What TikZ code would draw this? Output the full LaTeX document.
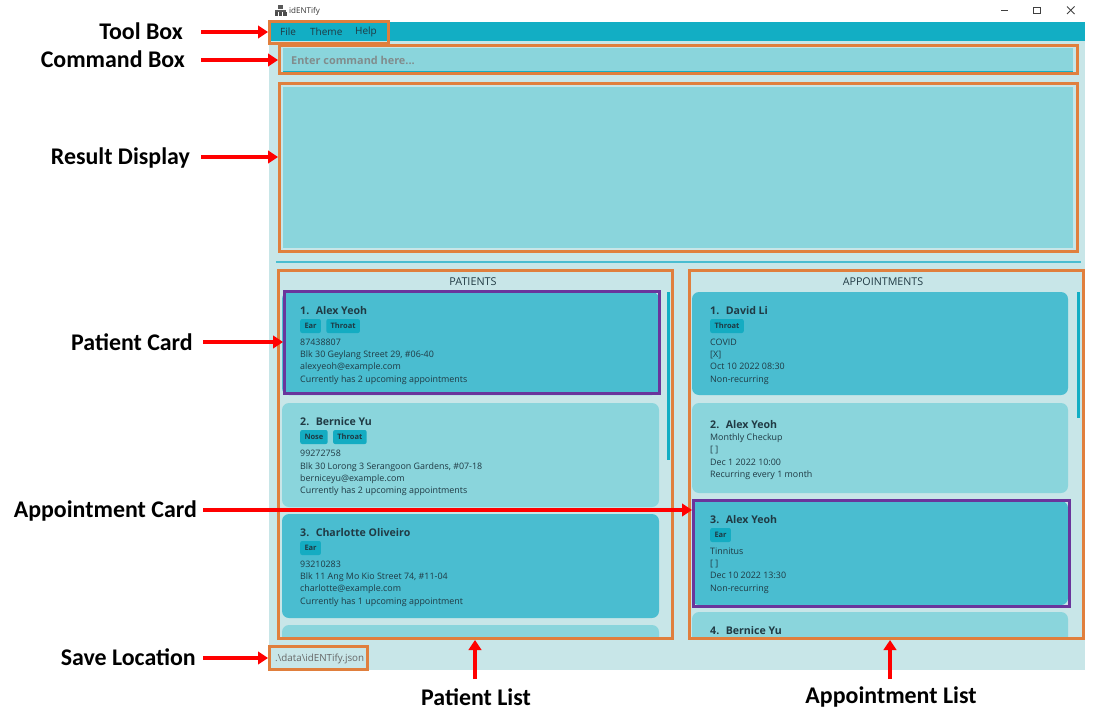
\documentclass[tikz,border=0pt]{standalone}
\usepackage{xcolor}
\usepackage{fontspec}
\setmainfont{Open Sans}
\newfontfamily\labelfont{Carlito}
\usepackage{tikz}
\usetikzlibrary{positioning,arrows.meta}
\definecolor{appbg}{RGB}{200, 230, 232}
\definecolor{appbar}{RGB}{18, 174, 196}
\definecolor{carddark}{RGB}{74, 189, 208}
\definecolor{cardlight}{RGB}{138, 213, 220}
\definecolor{tagfill}{RGB}{20, 172, 194}
\definecolor{markorange}{RGB}{224, 127, 61}
\definecolor{markpurple}{RGB}{106, 53, 156}
\definecolor{inktext}{RGB}{32, 58, 68}
\tikzset{
  orangebox/.style={draw=markorange,line width=3pt,inner sep=0pt},
  purplebox/.style={draw=markpurple,line width=3pt,inner sep=0pt},
  callout/.style={font=\labelfont\fontsize{23.9}{24}\selectfont\bfseries,text=black,inner sep=0pt},
  redarrow/.style={draw=red,line width=3.6pt,-{Triangle[length=10pt,width=12.5pt]}},
  cardname/.style={anchor=west,inner sep=0pt,font=\fontsize{10.6}{12}\selectfont\bfseries,text=inktext},
  cardbody/.style={anchor=north west,inner sep=0pt,align=left,text=inktext,font=\fontsize{8.9}{12.35}\selectfont},
  tagbox/.style={fill=tagfill,rounded corners=2pt,inner xsep=4.3pt,inner ysep=0pt,minimum height=14pt,text=inktext,font=\fontsize{7.5}{9}\selectfont\bfseries},
  darkcard/.style={fill=carddark,rounded corners=7pt},
  lightcard/.style={fill=cardlight,rounded corners=7pt}
}
\begin{document}
\begin{tikzpicture}[x=1pt,y=-1pt,node distance=5pt]
\useasboundingbox (0,0) rectangle (1108,720);

% Window
\fill[appbg] (269,22) rectangle (1085,670);
\fill[appbar] (269,22) rectangle (1085,41);

% Title bar
\fill[gray!70!black] (278,4.5) rectangle (283,9);
\fill[gray!70!black] (275,10) rectangle (286,11.5);
\fill[black!70] (274.5,12) rectangle (278,16);
\fill[black!70] (279,12) rectangle (282,16);
\fill[black!70] (283,12) rectangle (286.5,16);
\node[anchor=west,inner sep=0pt,font=\fontsize{8}{9}\selectfont,text=black!80] (apptitle) at (289,11) {idENTify};
\draw[black!75,line width=0.9pt] (1001,10.5) -- (1008,10.5);
\draw[black!75,line width=0.9pt] (1033.5,7) rectangle (1040.5,13.5);
\draw[black!75,line width=0.8pt] (1067,6.5) -- (1074.5,14);
\draw[black!75,line width=0.8pt] (1074.5,6.5) -- (1067,14);

% Menu
\node[anchor=west,inner sep=0pt,font=\fontsize{10}{11}\selectfont,text=inktext] (menufile) at (280,32) {File};
\node[anchor=west,inner sep=0pt,font=\fontsize{10}{11}\selectfont,text=inktext] (menutheme) at (310,32) {Theme};
\node[anchor=west,inner sep=0pt,font=\fontsize{10}{11}\selectfont,text=inktext] (menuhelp) at (355,32) {Help};

% Command and result fields
\fill[cardlight] (283,48) rectangle (1073,71);
\draw[appbar,line width=0.7pt] (283,71) -- (1073,71);
\node[anchor=west,inner sep=0pt,font=\fontsize{10.9}{11}\selectfont\bfseries,text=gray!85!cardlight] (cmdhint) at (291,60) {Enter command here...};
\fill[cardlight] (283,87) rectangle (1073,248);
\draw[carddark,line width=2pt] (276,262) -- (1081,262);

% Patient cards
\node[inner sep=0pt,font=\fontsize{10.8}{11}\selectfont,text=inktext] (patienthead) at (473,281.5) {PATIENTS};
\fill[darkcard] (282,292) rectangle (659,395);
\fill[lightcard] (282,403) rectangle (659,507);
\fill[darkcard] (282,514) rectangle (659,618);
\begin{scope}
\clip (282,620) rectangle (659,637);
\fill[lightcard] (282,625) rectangle (659,660);
\end{scope}
\fill[appbar] (667,292) rectangle (670,460);

\node[cardname] (ponename) at (300,310.5) {1.\hspace{6.5pt}Alex Yeoh};
\node[tagbox,anchor=west] (poneear) at (300,326) {Ear};
\node[tagbox,right=of poneear] (ponethroat) {Throat};
\node[cardbody] (ponebody) at (300,338.5) {87438807\\Blk 30 Geylang Street 29, \#06-40\\alexyeoh@example.com\\Currently has 2 upcoming appointments};

\node[cardname] (ptwoname) at (300,421.5) {2.\hspace{6.5pt}Bernice Yu};
\node[tagbox,anchor=west] (ptwonose) at (300,437) {Nose};
\node[tagbox,right=of ptwonose] (ptwothroat) {Throat};
\node[cardbody] (ptwobody) at (300,450) {99272758\\Blk 30 Lorong 3 Serangoon Gardens, \#07-18\\berniceyu@example.com\\Currently has 2 upcoming appointments};

\node[cardname] (pthreename) at (300,532.5) {3.\hspace{6.5pt}Charlotte Oliveiro};
\node[tagbox,anchor=west] (pthreeear) at (300,548) {Ear};
\node[cardbody] (pthreebody) at (300,560.5) {93210283\\Blk 11 Ang Mo Kio Street 74, \#11-04\\charlotte@example.com\\Currently has 1 upcoming appointment};

% Appointment cards
\node[inner sep=0pt,font=\fontsize{10.7}{11}\selectfont,text=inktext] (appthead) at (883,281.5) {APPOINTMENTS};
\fill[darkcard] (692,292) rectangle (1068,395);
\fill[lightcard] (692,403) rectangle (1068,493);
\fill[darkcard] (692,501) rectangle (1068,605);
\begin{scope}
\clip (692,605) rectangle (1068,637);
\fill[lightcard] (692,612) rectangle (1068,660);
\end{scope}
\fill[appbar] (1077,292) rectangle (1080,418);

\node[cardname] (aonename) at (710,310.5) {1.\hspace{6.5pt}David Li};
\node[tagbox,anchor=west] (aonethroat) at (710,326) {Throat};
\node[cardbody] (aonebody) at (710,338.5) {COVID\\{[X]}\\Oct 10 2022 08:30\\Non-recurring};

\node[cardname] (atwoname) at (710,424.5) {2.\hspace{6.5pt}Alex Yeoh};
\node[cardbody] (atwobody) at (710,433.5) {Monthly Checkup\\{[ ]}\\Dec 1 2022 10:00\\Recurring every 1 month};

\node[cardname] (athreename) at (710,519.5) {3.\hspace{6.5pt}Alex Yeoh};
\node[tagbox,anchor=west] (athreeear) at (710,535) {Ear};
\node[cardbody] (athreebody) at (710,547.5) {Tinnitus\\{[ ]}\\Dec 10 2022 13:30\\Non-recurring};

\node[cardname] (afourname) at (710,630.5) {4.\hspace{6.5pt}Bernice Yu};

% Status bar
\node[anchor=west,inner sep=0pt,font=\fontsize{9.8}{11}\selectfont,text=black!60] (savepath) at (275,659) {.\textbackslash data\textbackslash idENTify.json};

% Marked regions
\node[orangebox,minimum width=119pt,minimum height=21.5pt] (toolbox) at (329,32.25) {};
\node[orangebox,minimum width=798pt,minimum height=27.5pt] (cmdbox) at (678.5,59.25) {};
\node[orangebox,minimum width=798pt,minimum height=168pt] (resultbox) at (678.5,167) {};
\node[orangebox,minimum width=394pt,minimum height=368pt] (patientlist) at (475.5,454.5) {};
\node[orangebox,minimum width=394pt,minimum height=368pt] (apptlist) at (886.5,454.5) {};
\node[orangebox,minimum width=98pt,minimum height=23pt] (savebox) at (318.5,658) {};
\node[purplebox,minimum width=375pt,minimum height=102pt] (patientcard) at (472,342.5) {};
\node[purplebox,minimum width=376pt,minimum height=105.5pt] (apptcard) at (881.5,553.25) {};

% Callouts
\node[callout,anchor=base east] (toolname) at (183,39.5) {Tool Box};
\node[callout,anchor=base east] (cmdname) at (185,67.5) {Command Box};
\node[callout,anchor=base east] (resultname) at (190,164.5) {Result Display};
\node[callout,anchor=base east] (cardname) at (193,350.5) {Patient Card};
\node[callout,anchor=base east] (apptname) at (197,517) {Appointment Card};
\node[callout,anchor=base east] (savename) at (196,665.5) {Save Location};
\node[callout,anchor=base] (listname) at (476,705.5) {Patient List};
\node[callout,anchor=base] (alistname) at (891,703.5) {Appointment List};

% Arrows
\coordinate (toolfrom) at (201,32);
\coordinate (cmdfrom) at (201,60);
\coordinate (resultfrom) at (201,157);
\coordinate (cardfrom) at (203,342);
\coordinate (apptfrom) at (203,510);
\coordinate (savefrom) at (203,658);
\coordinate (listfrom) at (475,679);
\coordinate (alistfrom) at (890,679);
\draw[redarrow] (toolfrom) -- (toolfrom -| toolbox.west);
\draw[redarrow] (cmdfrom) -- (cmdfrom -| cmdbox.west);
\draw[redarrow] (resultfrom) -- (resultfrom -| resultbox.west);
\draw[redarrow] (cardfrom) -- (cardfrom -| patientcard.west);
\draw[redarrow] (apptfrom) -- (apptfrom -| apptcard.west);
\draw[redarrow] (savefrom) -- (savefrom -| savebox.west);
\draw[redarrow] (listfrom) -- (listfrom |- patientlist.south);
\draw[redarrow] (alistfrom) -- (alistfrom |- apptlist.south);
\end{tikzpicture}
\end{document}
